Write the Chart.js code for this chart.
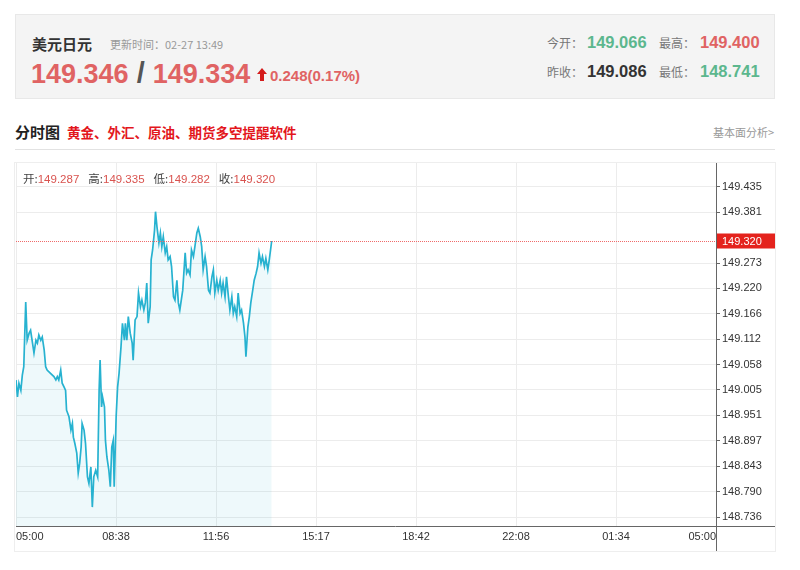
<!DOCTYPE html>
<html>
<head>
<meta charset="utf-8">
<script src="https://cdn.jsdelivr.net/npm/chart.js@4.4.1/dist/chart.umd.min.js"></script>
<style>
  body { margin: 0; background: #fff; font-family: "Liberation Sans", "Noto Sans CJK SC", sans-serif; }
  .abs { position: absolute; white-space: nowrap; }
  #quote-box { left: 15px; top: 14px; width: 758px; height: 83px; background: #f4f4f4; border: 1px solid #e8e8e8; }
  .cn { font-family: "Noto Sans CJK SC", sans-serif; }
  .lbl { font-size: 12px; color: #777; }
  .num { font-size: 16.5px; font-weight: bold; }
  .red { color: #e06363; }
  .green { color: #5cb78e; }
  #chart-box { left: 15px; top: 163px; width: 760px; height: 388px; outline: 1px solid #eeeeee; }
  #ohlc { left: 23px; top: 170px; font-size: 11.5px; color: #444; }
  #ohlc span.v { color: #d9534f; margin-right: 9px; }
</style>
</head>
<body>
<div id="quote-box" class="abs"></div>
<div class="abs cn" style="left:32px;top:33px;font-size:15px;font-weight:bold;color:#333;">美元日元</div>
<div class="abs cn" style="left:110px;top:36px;font-size:11px;color:#999;">更新时间：02-27 13:49</div>
<div class="abs" style="left:31px;top:57px;font-size:27px;font-weight:bold;">
  <span class="red">149.346</span><span style="color:#555;font-size:29px;"> / </span><span class="red">149.334</span>
</div>
<svg class="abs" style="left:257px;top:68px;" width="10" height="13" viewBox="0 0 10 13">
  <polygon points="5,0 10,6 7,6 7,13 3,13 3,6 0,6" fill="#d41b1b"/>
</svg>
<div class="abs red" style="left:270px;top:67px;font-size:15px;font-weight:bold;">0.248(0.17%)</div>

<div class="abs cn lbl" style="left:547px;top:34px;">今开：</div>
<div class="abs num green" style="left:587px;top:33px;">149.066</div>
<div class="abs cn lbl" style="left:659px;top:34px;">最高：</div>
<div class="abs num red" style="left:700px;top:33px;">149.400</div>
<div class="abs cn lbl" style="left:547px;top:63px;">昨收：</div>
<div class="abs num" style="left:587px;top:62px;color:#333;">149.086</div>
<div class="abs cn lbl" style="left:659px;top:63px;">最低：</div>
<div class="abs num green" style="left:700px;top:62px;">148.741</div>

<div class="abs cn" style="left:15px;top:121px;font-size:15px;font-weight:bold;color:#222;">分时图</div>
<div class="abs cn" style="left:67px;top:122px;font-size:13.5px;font-weight:bold;color:#e3161c;">黄金、外汇、原油、期货多空提醒软件</div>
<div class="abs cn" style="left:713px;top:124px;font-size:11px;color:#999;">基本面分析&gt;</div>
<div class="abs" style="left:15px;top:149px;width:760px;height:1px;background:#e2e2e2;"></div>

<div id="chart-box" class="abs"><canvas id="chart" width="760" height="388"></canvas></div>
<div id="ohlc" class="abs"><span class="cn">开:</span><span class="v">149.287</span><span class="cn">高:</span><span class="v">149.335</span><span class="cn">低:</span><span class="v">149.282</span><span class="cn">收:</span><span class="v">149.320</span></div>

<script>
// ---------- Data ----------
// minutes elapsed since 05:00 and the price at that time
const minutes = [0,3,6,10,13,16,20,23,27,30,34,37,41,44,47,51,54,58,61,64,71,78,82,85,88,92,95,99,102,104,109,113,116,118,121,125,128,131,134,136,140,143,147,150,154,157,160,164,168,171,173,176,178,182,184,187,191,194,197,200,202,206,209,212,216,219,223,225,228,231,235,239,241,245,249,252,256,259,263,266,269,272,276,278,281,285,287,290,294,297,300,303,307,310,313,317,320,324,327,331,334,337,343,348,351,354,358,361,365,368,372,375,379,382,385,389,392,396,399,403,406,409,413,416,420,423,426,430,433,437,440,444,447,450,454,457,461,464,468,471,473,477,480,483,487,490,494,497,500,504,507,511,514,518,521,526];
const prices = [149.026,148.990,149.019,149.004,149.036,149.054,149.191,149.110,149.125,149.131,149.104,149.083,149.110,149.104,149.121,149.110,149.117,149.089,149.054,149.047,149.040,149.033,149.026,149.033,149.026,149.047,149.019,149.011,149.004,148.962,148.948,148.920,148.934,148.905,148.892,148.871,148.829,148.850,148.884,148.934,148.920,148.892,148.821,148.807,148.842,148.757,148.821,148.835,148.821,149.004,149.068,148.969,148.990,148.969,148.898,148.863,148.835,148.800,148.884,148.898,148.800,148.948,149.011,149.040,149.096,149.146,149.110,149.146,149.110,149.160,149.125,149.104,149.068,149.153,149.160,149.210,149.181,149.195,149.174,149.189,149.231,149.146,149.181,149.280,149.301,149.343,149.382,149.350,149.316,149.337,149.308,149.329,149.295,149.308,149.280,149.287,149.266,149.202,149.195,149.237,149.189,149.174,149.216,149.295,149.252,149.259,149.248,149.301,149.287,149.308,149.337,149.347,149.329,149.308,149.259,149.287,149.266,149.216,149.210,149.244,149.259,149.210,149.237,149.216,149.237,149.210,149.231,149.202,149.244,149.202,149.174,149.202,149.167,149.181,149.160,149.210,149.167,149.174,149.146,149.117,149.075,149.138,149.160,149.189,149.216,149.237,149.252,149.266,149.295,149.273,149.287,149.266,149.283,149.259,149.280,149.320];

const xTickLabels = ['05:00', '08:38', '11:56', '15:17', '18:42', '22:08', '01:34', '05:00'];
const yTickValues = [149.435, 149.381, 149.273, 149.220, 149.166, 149.112, 149.058, 149.005, 148.951, 148.897, 148.843, 148.790, 148.736];
const lastPrice = 149.320;
const sessionMinutes = 1440;
const yMin = 148.717;
const yMax = 149.485;

// ---------- Plugins ----------
const axisLines = {
    id: 'axisLines',
    afterDraw(chart) {
        const { ctx, chartArea } = chart;
        ctx.save();
        ctx.strokeStyle = '#666';
        ctx.lineWidth = 1;
        ctx.beginPath();
        ctx.moveTo(Math.round(chartArea.right) + 0.5, 0);
        ctx.lineTo(Math.round(chartArea.right) + 0.5, chart.height);
        ctx.moveTo(chartArea.left, Math.round(chartArea.bottom) + 0.5);
        ctx.lineTo(chart.width, Math.round(chartArea.bottom) + 0.5);
        ctx.stroke();
        ctx.restore();
    }
};

const priceLine = {
    id: 'priceLine',
    afterDraw(chart) {
        const { ctx, chartArea } = chart;
        const y = Math.round(chart.scales.y.getPixelForValue(lastPrice)) + 0.5;
        ctx.save();
        ctx.strokeStyle = '#ef6a6a';
        ctx.lineWidth = 1;
        ctx.setLineDash([1, 1]);
        ctx.beginPath();
        ctx.moveTo(chartArea.left, y);
        ctx.lineTo(chartArea.right, y);
        ctx.stroke();
        ctx.setLineDash([]);
        ctx.fillStyle = '#e4231d';
        ctx.fillRect(chartArea.right + 1, y - 8, chart.width - chartArea.right - 1, 15);
        ctx.fillStyle = '#fff';
        ctx.font = '11px "Liberation Sans"';
        ctx.textBaseline = 'middle';
        ctx.fillText(lastPrice.toFixed(3), chartArea.right + 6, y);
        ctx.restore();
    }
};

// no extra room for half labels, the plot should fill the box
function noPadding(axis) {
    axis.paddingTop = 0;
    axis.paddingBottom = 0;
    axis.paddingLeft = 0;
    axis.paddingRight = 0;
}

// ---------- Chart ----------
const ctx = document.getElementById('chart').getContext('2d');
new Chart(ctx, {
    type: 'line',
    data: {
        datasets: [{
            data: minutes.map((m, i) => ({ x: m, y: prices[i] })),
            borderColor: '#27b2d0',
            borderWidth: 1.7,
            backgroundColor: 'rgba(43,179,209,0.08)',
            fill: 'start',
            pointRadius: 0,
            tension: 0
        }]
    },
    options: {
        responsive: false,
        animation: false,
        layout: { padding: { left: 1, top: 0, right: 0, bottom: 0 } },
        plugins: { legend: { display: false }, tooltip: { enabled: false } },
        scales: {
            x: {
                type: 'linear',
                min: 0,
                max: sessionMinutes,
                afterBuildTicks: axis => {
                    axis.ticks = xTickLabels.map((l, i) => ({ value: i * sessionMinutes / (xTickLabels.length - 1) }));
                },
                afterFit: axis => { axis.height = 25; noPadding(axis); },
                border: { display: false },
                grid: { color: '#ececec', drawTicks: false },
                ticks: {
                    align: 'inner',
                    maxRotation: 0,
                    autoSkip: false,
                    padding: 4,
                    color: '#333',
                    font: { size: 11, family: 'Liberation Sans' },
                    callback: (v, i) => xTickLabels[i]
                }
            },
            y: {
                position: 'right',
                min: yMin,
                max: yMax,
                afterBuildTicks: axis => {
                    axis.ticks = yTickValues.map(v => ({ value: v }));
                },
                afterFit: axis => { axis.width = 59; noPadding(axis); },
                border: { display: false },
                grid: { color: '#ececec', tickLength: 4, tickColor: '#666' },
                ticks: {
                    padding: 2,
                    color: '#333',
                    font: { size: 11, family: 'Liberation Sans' },
                    callback: v => v.toFixed(3)
                }
            }
        }
    },
    plugins: [axisLines, priceLine]
});
console.log('chart drawn');
</script>
</body>
</html>
